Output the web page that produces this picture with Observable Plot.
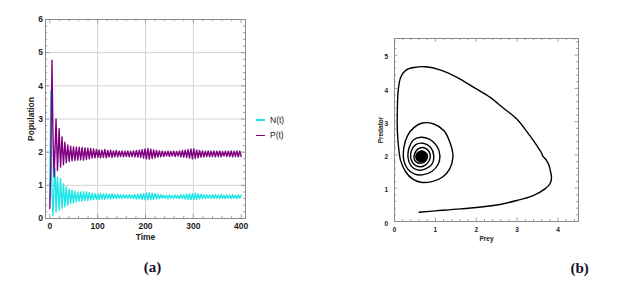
<!DOCTYPE html>
<html><head><meta charset="utf-8">
<script src="https://cdn.jsdelivr.net/npm/d3@7"></script>
<script src="https://cdn.jsdelivr.net/npm/@observablehq/plot@0.6"></script>
<style>
html,body{margin:0;padding:0;background:#fff;}
#wrap{position:relative;width:629px;height:283px;overflow:hidden;font-family:"Liberation Sans",Arial,sans-serif;}
#wrap svg{position:absolute;overflow:visible;}
.abs{position:absolute;white-space:nowrap;}
</style></head><body><div id="wrap"></div>
<script>
// ---- panel (a): time series, values at successive extremes ----
const time = [0,2,4.5,6.5,9,11,13,16,19.5,22.5,25.5,28.5,31.5,34.5,37.5,40.5,43.5,46.5,49.5,52.5,55.5,58.5,61.5,64.5,67.5,70.5,73.5,76.5,79.5,82.5,85.5,88.5,91.5,94.5,97.5,100.5,
103,106,109,112,115,118,121,124,127,130,
133,136,139,142,145,148,151,154,157,160,
163,166,169,172,175,178,181,184,187,190,
193,196,199,202,205,208,211,214,217,220,
223,226,229,232,235,238,241,244,247,250,
253,256,259,262,265,268,271,274,277,280,
283,286,289,292,295,298,301,304,307,310,
313,316,319,322,325,328,331,334,337,340,
343,346,349,352,355,358,361,364,367,370,
373,376,379,382,385,388,391,394,397,400];
const preyN = [0.6,3.85,0.9,0.08,1.1,1.5,0.2,1.25,0.25,1.2,0.3,1.05,0.35,0.95,0.4,0.88,0.45,0.85,0.47,0.82,0.5,0.8,0.52,0.8,0.53,0.81,0.54,0.8,0.55,0.78,0.56,0.76,0.57,0.75,0.58,0.74,
0.58,0.75,0.59,0.74,0.58,0.75,0.6,0.73,0.59,0.74,
0.6,0.72,0.6,0.73,0.61,0.71,0.6,0.72,0.61,0.71,
0.6,0.72,0.61,0.71,0.6,0.72,0.59,0.73,0.59,0.74,
0.58,0.75,0.57,0.76,0.56,0.77,0.57,0.76,0.58,0.75,
0.59,0.73,0.6,0.72,0.61,0.71,0.61,0.7,0.6,0.71,
0.61,0.7,0.6,0.71,0.61,0.7,0.6,0.72,0.6,0.72,
0.59,0.73,0.58,0.74,0.57,0.75,0.57,0.76,0.58,0.74,
0.59,0.73,0.6,0.72,0.6,0.71,0.61,0.71,0.6,0.72,
0.6,0.72,0.61,0.71,0.6,0.72,0.61,0.7,0.6,0.71,
0.61,0.71,0.6,0.72,0.61,0.7,0.6,0.71,0.61,0.71];
const predP = [0.3,1.6,4.77,2.6,1.25,2.1,3.0,1.45,2.71,1.55,2.46,1.62,2.3,1.68,2.22,1.72,2.18,1.74,2.16,1.75,2.15,1.76,2.15,1.77,2.14,1.76,2.13,1.78,2.12,1.8,2.11,1.82,2.1,1.83,2.08,1.84,
2.07,1.83,2.06,1.84,2.08,1.83,2.05,1.85,2.06,1.84,
2.04,1.86,2.05,1.86,2.03,1.87,2.04,1.86,2.03,1.87,
2.04,1.86,2.03,1.87,2.04,1.86,2.05,1.85,2.06,1.84,
2.08,1.82,2.1,1.8,2.11,1.79,2.09,1.81,2.07,1.83,
2.05,1.85,2.04,1.86,2.03,1.87,2.02,1.88,2.03,1.87,
2.02,1.88,2.03,1.87,2.02,1.88,2.04,1.86,2.05,1.85,
2.06,1.84,2.08,1.82,2.1,1.8,2.1,1.81,2.07,1.83,
2.05,1.85,2.04,1.86,2.03,1.87,2.04,1.86,2.03,1.87,
2.04,1.86,2.03,1.87,2.04,1.86,2.02,1.88,2.03,1.87,
2.03,1.87,2.04,1.86,2.03,1.87,2.04,1.86,2.03,1.87];
const seriesNames = ["N(t)", "P(t)"];
const seriesColors = ["#1de6e6", "#800080"];
const timeTicks = [0,100,200,300,400];
const popTicks = [0,1,2,3,4,5,6];

// ---- panel (b): phase portrait ----
const phasePrey = [0.6,1.0,1.61,2.42,2.99,3.39,3.68,3.81,3.84,3.81,3.78,3.72,3.62,3.6,3.51,3.31,2.99,2.66,2.34,1.94,1.53,1.13,0.76,0.48,0.28,0.15,0.09,0.07,0.07,0.1,0.15,0.28,0.44,0.64,0.92,1.17,1.35,1.43,1.37,1.21,0.96,0.68,0.48,0.32,0.23,0.23,0.32,0.48,0.68,0.92,1.07,1.11,1.03,0.84,0.64,0.46,0.36,0.33,0.4,0.56,0.76,0.92,0.96,0.88,0.7,0.52,0.41,0.41,0.52,0.7,0.84,0.87,0.76,0.6,0.49,0.5,0.64,0.78,0.79,0.66,0.55,0.58,0.7,0.74,0.65,0.59];
const phasePred = [0.28,0.32,0.38,0.48,0.63,0.78,0.98,1.15,1.33,1.53,1.68,1.83,1.98,2.05,2.23,2.58,3.08,3.41,3.73,4.03,4.33,4.55,4.65,4.63,4.55,4.33,3.93,3.33,2.73,2.23,1.83,1.48,1.28,1.18,1.2,1.33,1.58,1.95,2.33,2.73,2.93,2.96,2.83,2.58,2.23,1.83,1.58,1.43,1.4,1.51,1.73,1.98,2.28,2.48,2.53,2.45,2.23,1.93,1.68,1.55,1.58,1.73,1.98,2.23,2.35,2.31,2.11,1.85,1.68,1.66,1.81,2.03,2.2,2.2,2.03,1.83,1.75,1.85,2.03,2.12,2.0,1.86,1.84,1.98,2.06,1.95];
const focusPrey = [0.65];
const focusPred = [1.95];
const preyTicks = [0,1,2,3,4];
const predTicks = [0,1,2,3,4,5];
const captions = ["(a)", "(b)"];

const frameColor = "#8a8a8a";
const gridColor = "#d2d2d2";
const wrap = document.getElementById("wrap");

function minorTicks(lo, hi, step, majors) {
  return d3.range(lo, hi + step / 2, step).filter(v => !majors.some(m => Math.abs(m - v) < step / 10));
}
function frameTicks(xMaj, xMin, yMaj, yMin, iw, ih, maj, min) {
  const s = {stroke: frameColor, strokeWidth: 0.8};
  return [
    Plot.tickX(xMaj, {x: d => d, insetTop: ih - maj, ...s}),
    Plot.tickX(xMaj, {x: d => d, insetBottom: ih - maj, ...s}),
    Plot.tickX(xMin, {x: d => d, insetTop: ih - min, ...s}),
    Plot.tickX(xMin, {x: d => d, insetBottom: ih - min, ...s}),
    Plot.tickY(yMaj, {y: d => d, insetRight: iw - maj, ...s}),
    Plot.tickY(yMaj, {y: d => d, insetLeft: iw - maj, ...s}),
    Plot.tickY(yMin, {y: d => d, insetRight: iw - min, ...s}),
    Plot.tickY(yMin, {y: d => d, insetLeft: iw - min, ...s})
  ];
}

// ---- left chart ----
{
  const W = 250, H = 245, mL = 45, mR = 5, mT = 19, mB = 27;
  const iw = W - mL - mR, ih = H - mT - mB;
  const rows = [preyN, predP].map((vals, k) =>
    time.map((t, i) => ({t, v: vals[i], s: seriesNames[k]})));
  const chart = Plot.plot({
    width: W, height: H, marginLeft: mL, marginRight: mR, marginTop: mT, marginBottom: mB,
    style: {fontFamily: "'Liberation Sans', Arial, sans-serif", fontSize: "8.5px", fontWeight: "bold", color: "#222", background: "transparent"},
    x: {domain: [-9, 409]},
    y: {domain: [0, 6]},
    marks: [
      Plot.ruleX(timeTicks.slice(1, -1), {x: d => d, stroke: gridColor, strokeWidth: 1}),
      Plot.ruleY(popTicks.slice(1, -1), {y: d => d, stroke: gridColor, strokeWidth: 1}),
      ...rows.map((r, k) => Plot.line(r, {x: "t", y: "v", stroke: seriesColors[k], strokeWidth: 1.4})),
      Plot.frame({stroke: frameColor, strokeWidth: 1}),
      ...frameTicks(timeTicks, minorTicks(0, 400, 20, timeTicks), popTicks, minorTicks(0, 6, 0.2, popTicks), iw, ih, 4, 2.2),
      Plot.axisX(timeTicks, {tickSize: 0, tickPadding: 4, label: "Time", labelAnchor: "center", labelArrow: false, labelOffset: 21.5}),
      Plot.axisY(popTicks, {tickSize: 0, tickPadding: 2.5, label: "Population", labelAnchor: "center", labelArrow: false, labelOffset: 18})
    ]
  });
  chart.style.left = "0px"; chart.style.top = "0px";
  wrap.appendChild(chart);
}

// ---- right chart ----
{
  const W = 245, H = 250, mL = 54, mR = 7, mT = 38, mB = 29;
  const iw = W - mL - mR, ih = H - mT - mB;
  const rows = phasePrey.map((x, i) => ({x, y: phasePred[i]}));
  const focus = focusPrey.map((x, i) => ({x, y: focusPred[i]}));
  const chart = Plot.plot({
    width: W, height: H, marginLeft: mL, marginRight: mR, marginTop: mT, marginBottom: mB,
    style: {fontFamily: "'Liberation Sans', Arial, sans-serif", fontSize: "6.5px", fontWeight: "bold", color: "#222", background: "transparent"},
    x: {domain: [0, 4.5]},
    y: {domain: [0, 5.5]},
    marks: [
      Plot.line(rows, {x: "x", y: "y", stroke: "#000", strokeWidth: 1.4, curve: "catmull-rom"}),
      Plot.dot(focus, {x: "x", y: "y", r: 6, fill: "#000"}),
      Plot.frame({stroke: frameColor, strokeWidth: 1}),
      ...frameTicks(preyTicks, minorTicks(0, 4.4, 0.2, preyTicks), predTicks, minorTicks(0, 5.4, 0.2, predTicks), iw, ih, 3.5, 2),
      Plot.axisX(preyTicks, {tickSize: 0, tickPadding: 6, label: "Prey", labelAnchor: "center", labelArrow: false, labelOffset: 19}),
      Plot.axisY(predTicks, {tickSize: 0, tickPadding: 6.5, label: "Predator", labelAnchor: "center", labelArrow: false, labelOffset: 16, dy: 2})
    ]
  });
  chart.style.left = "340px"; chart.style.top = "0px";
  wrap.appendChild(chart);
}

// ---- legend for (a) ----
seriesNames.forEach((name, i) => {
  const y = 120 + i * 15.7;
  const line = document.createElement("div");
  line.className = "abs";
  Object.assign(line.style, {left: "256px", top: (y - 0.75) + "px", width: "9px", height: "1.5px", background: seriesColors[i]});
  wrap.appendChild(line);
  const txt = document.createElement("div");
  txt.className = "abs";
  txt.textContent = name;
  Object.assign(txt.style, {left: "270px", top: (y - 5.5) + "px", fontSize: "8.5px", lineHeight: "11px", color: "#222"});
  wrap.appendChild(txt);
});

// ---- captions ----
[[152.5, 267], [579.7, 268]].forEach(([cx, cy], i) => {
  const c = document.createElement("div");
  c.className = "abs";
  c.textContent = captions[i];
  Object.assign(c.style, {left: (cx - 30) + "px", width: "60px", textAlign: "center", top: (cy - 10) + "px", lineHeight: "20px",
    fontFamily: "'Liberation Serif', 'Times New Roman', serif", fontWeight: "bold", fontSize: "15px", color: "#14142b"});
  wrap.appendChild(c);
});
</script></body></html>
